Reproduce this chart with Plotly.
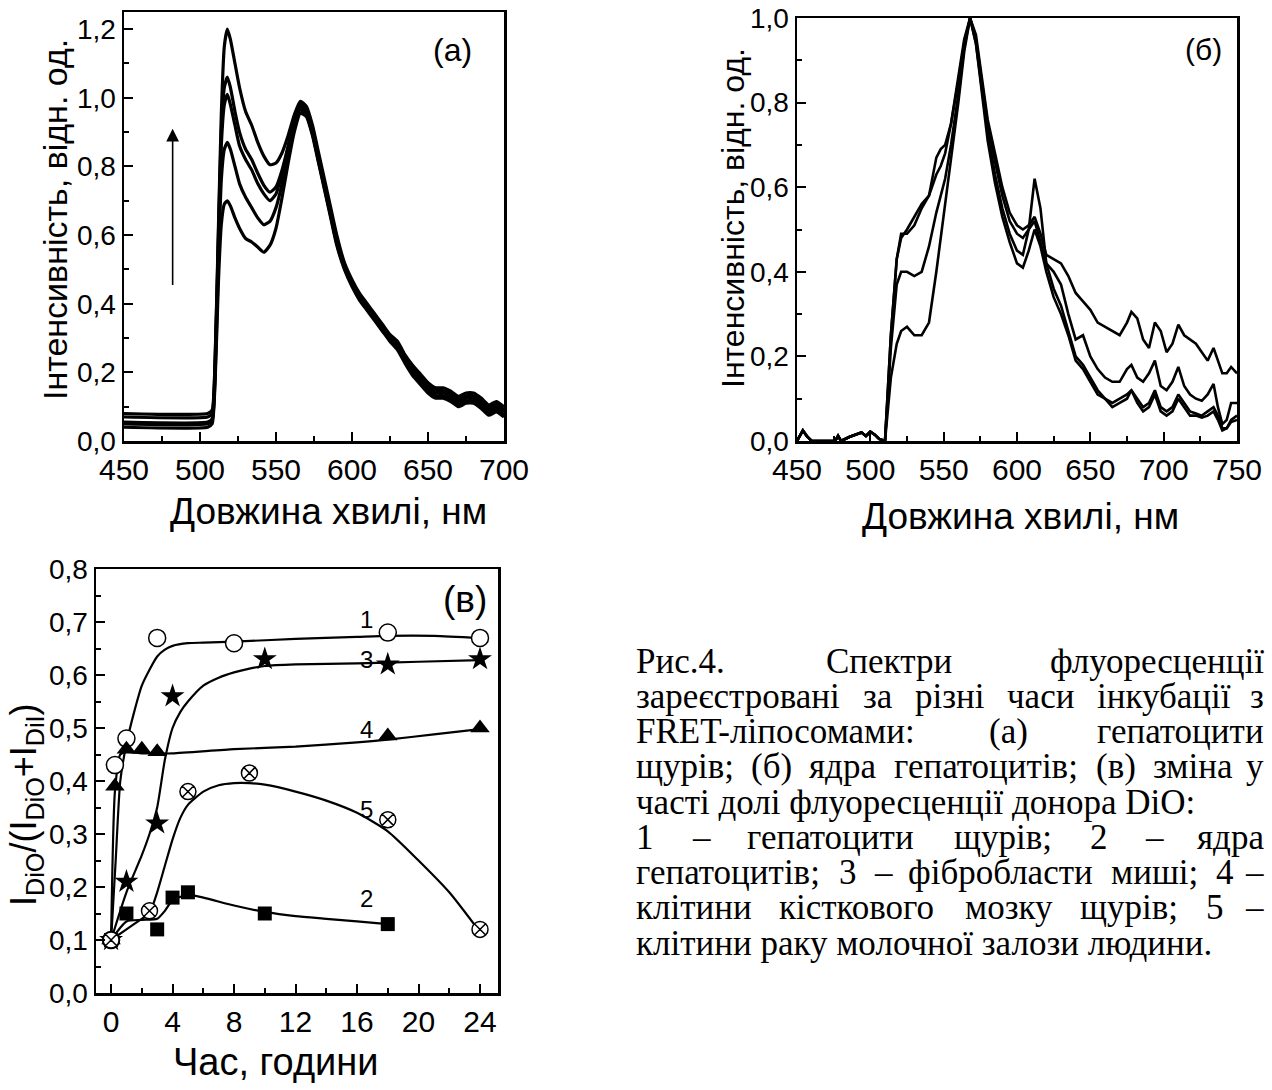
import plotly.graph_objects as go

W, H = 1272, 1090

# ---------------- Panel (a) data ----------------
wl_a = [450, 505, 508, 510, 512, 514, 516, 518, 520, 523, 526, 530, 534, 538, 542, 546, 550, 554, 558, 562,
        566, 570, 574, 578, 582, 586, 590, 595, 600, 605, 610, 615, 620, 625, 630, 635, 640, 645, 650, 655,
        660, 665, 670, 675, 680, 685, 690, 695, 700]
a1 = [.08, .08, .09, .25, .60, .95, 1.15, 1.20, 1.17, 1.10, 1.03, .96, .92, .87, .83, .805, .81, .84, .89, .95,
      .99, .975, .92, .84, .76, .68, .60, .52, .47, .43, .40, .37, .34, .31, .29, .25, .22, .195, .17, .155,
      .155, .145, .13, .14, .14, .125, .105, .115, .10]
a2 = [.07, .07, .08, .24, .58, .90, 1.03, 1.06, 1.03, .96, .90, .85, .82, .78, .745, .725, .74, .79, .86, .94,
      .985, .965, .91, .83, .75, .67, .59, .515, .465, .425, .395, .365, .335, .305, .285, .245, .21, .185, .16, .148,
      .147, .137, .122, .132, .132, .117, .097, .107, .092]
a3 = [.055, .055, .065, .22, .55, .86, .98, 1.01, .98, .92, .86, .82, .79, .75, .72, .70, .72, .78, .855, .935,
      .975, .955, .90, .82, .74, .66, .58, .51, .46, .42, .39, .36, .33, .30, .28, .24, .205, .18, .155, .14,
      .14, .13, .115, .125, .125, .11, .09, .10, .085]
a4 = [.05, .05, .06, .20, .50, .76, .85, .87, .85, .80, .75, .71, .68, .65, .63, .64, .68, .75, .84, .92,
      .965, .95, .895, .815, .735, .655, .575, .505, .455, .415, .385, .355, .325, .295, .273, .233, .197, .172, .147, .132,
      .132, .122, .107, .117, .117, .102, .082, .092, .077]
a5 = [.04, .04, .05, .18, .45, .63, .69, .70, .685, .65, .62, .59, .58, .565, .55, .57, .62, .71, .81, .90,
      .955, .945, .89, .81, .73, .65, .57, .50, .45, .41, .38, .35, .32, .29, .265, .225, .19, .165, .14, .125,
      .125, .115, .10, .11, .11, .095, .075, .085, .07]
series_a = [a1, a2, a3, a4, a5]

# ---------------- Panel (б) data ----------------
wl_b = [450, 454, 457, 460, 464, 470, 476, 478, 480, 486, 490, 494, 497, 500, 503, 506, 510,
        514, 518, 521, 525, 530, 535, 540, 545, 548, 551, 555, 560, 564, 568, 572, 576, 580, 585, 590, 595,
        600, 604, 608, 612, 616, 620, 625, 630, 635, 640, 645, 650, 655, 660, 665, 670, 675, 678, 682, 686,
        690, 694, 698, 702, 706, 710, 714, 718, 722, 726, 730, 734, 737, 740, 743, 746, 750]
base_b = [0.0, 0.025, 0.01, 0.0, 0.0, 0.0, 0.0, 0.012, 0.0, 0.01, 0.015, 0.02, 0.012, 0.022, 0.015, 0.005, 0.0]
b1 = base_b + [.25, .43, .49, .49, .51, .55, .58, .67, .69, .70, .75, .85, .94, 1.0, .96, .86, .76, .68, .60, .54,
               .51, .50, .51, .53, .49, .44, .43, .42, .39, .35, .33, .31, .28, .27, .26, .25, .28, .305, .29, .24,
               .22, .28, .26, .21, .23, .275, .25, .24, .23, .21, .19, .22, .19, .16, .16, .175, .16]
b2 = base_b + [.25, .43, .48, .50, .53, .56, .58, .63, .65, .68, .75, .86, .95, 1.0, .95, .85, .75, .66, .58, .52,
               .49, .48, .50, .52, .47, .42, .40, .37, .30, .24, .25, .20, .17, .15, .14, .14, .17, .18, .15, .14,
               .16, .19, .13, .12, .14, .175, .13, .11, .10, .095, .11, .135, .08, .04, .05, .09, .09]
b3 = base_b + [.22, .37, .40, .40, .39, .40, .46, .54, .58, .62, .70, .82, .93, 1.0, .94, .84, .73, .63, .55, .49,
               .45, .44, .50, .62, .55, .42, .36, .32, .26, .20, .18, .15, .12, .10, .09, .10, .11, .12, .10, .08,
               .09, .12, .08, .07, .08, .11, .09, .07, .065, .06, .07, .08, .06, .03, .03, .05, .06]
b4 = base_b + [.15, .23, .26, .27, .25, .25, .28, .40, .48, .56, .66, .80, .92, 1.0, .94, .83, .71, .61, .53, .47,
               .42, .41, .45, .50, .46, .40, .34, .30, .25, .19, .17, .14, .11, .10, .08, .09, .10, .12, .09, .07,
               .08, .11, .07, .06, .07, .10, .08, .06, .06, .055, .06, .07, .05, .025, .03, .045, .05]
series_b = [b1, b2, b3, b4]

# ---------------- Panel (в) data ----------------
t1 = [0, 0.25, 1, 3, 8, 18, 24];        y1 = [0.10, 0.43, 0.48, 0.67, 0.66, 0.68, 0.67]
t2 = [0, 1, 3, 4, 5, 10, 18];           y2 = [0.10, 0.15, 0.12, 0.18, 0.19, 0.15, 0.13]
t3 = [0, 1, 3, 4, 10, 18, 24];          y3 = [0.10, 0.21, 0.32, 0.56, 0.63, 0.62, 0.63]
t4 = [0, 0.25, 1, 2, 3, 18, 24];        y4 = [0.10, 0.39, 0.46, 0.46, 0.455, 0.485, 0.50]
t5 = [0, 2.5, 5, 9, 18, 24];            y5 = [0.10, 0.155, 0.38, 0.415, 0.327, 0.12]

tf1 = [0, 0.3, 0.6, 1.0, 1.5, 2.0, 2.5, 3.0, 3.5, 4.0, 5.0, 6.0, 8.0, 12.0, 16.0, 18.0, 21.0, 24.0]
yf1 = [0.10, 0.25, 0.40, 0.47, 0.53, 0.58, 0.61, 0.635, 0.648, 0.655, 0.66, 0.661, 0.663, 0.668, 0.672, 0.674, 0.674, 0.67]
tf2 = [0, 1, 2, 3, 3.5, 4, 5, 6, 8, 10, 12, 14, 16, 18]
yf2 = [0.10, 0.135, 0.138, 0.14, 0.155, 0.175, 0.185, 0.18, 0.165, 0.153, 0.145, 0.14, 0.135, 0.13]
tf3 = [0, 1, 2, 2.5, 3, 3.5, 4, 4.5, 5, 6, 7, 8, 9, 10, 12, 16, 20, 24]
yf3 = [0.10, 0.19, 0.26, 0.30, 0.35, 0.44, 0.50, 0.53, 0.55, 0.58, 0.595, 0.605, 0.612, 0.617, 0.62, 0.622, 0.625, 0.628]
tf4 = [0, 0.25, 0.6, 1, 2, 3, 4, 8, 12, 16, 18, 21, 24]
yf4 = [0.10, 0.38, 0.45, 0.455, 0.452, 0.452, 0.452, 0.46, 0.465, 0.473, 0.478, 0.488, 0.498]
tf5 = [0, 1, 2, 2.5, 3, 3.5, 4, 4.5, 5, 6, 7, 8, 9, 10, 12, 14, 16, 18, 20, 22, 24]
yf5 = [0.10, 0.12, 0.14, 0.15, 0.19, 0.24, 0.29, 0.33, 0.355, 0.38, 0.392, 0.396, 0.396, 0.393, 0.38, 0.363, 0.34, 0.305, 0.25, 0.19, 0.115]

curve_labels = ["1", "2", "3", "4", "5"]
label_t = [16.6, 16.6, 16.6, 16.6, 16.6]
label_y = [0.705, 0.179, 0.63, 0.497, 0.346]

# ticks
ticks_a_x = [450, 500, 550, 600, 650, 700]
ticks_a_y = [0.0, 0.2, 0.4, 0.6, 0.8, 1.0, 1.2]
ticks_b_x = [450, 500, 550, 600, 650, 700, 750]
ticks_b_y = [0.0, 0.2, 0.4, 0.6, 0.8, 1.0]
ticks_c_x = [0, 4, 8, 12, 16, 20, 24]
ticks_c_y = [0.0, 0.1, 0.2, 0.3, 0.4, 0.5, 0.6, 0.7, 0.8]

# caption text: (line, justified?)
caption_lines = [
    ("Рис.4. Спектри флуоресценції", True),
    ("зареєстровані за різні часи інкубації з", True),
    ("FRET-ліпосомами: (а) гепатоцити", True),
    ("щурів; (б) ядра гепатоцитів; (в) зміна у", True),
    ("часті долі флуоресценції донора DiO:", False),
    ("1 – гепатоцити щурів; 2 – ядра", True),
    ("гепатоцитів; 3 – фібробласти миші; 4 –", True),
    ("клітини кісткового мозку щурів; 5 –", True),
    ("клітини раку молочної залози людини.", False),
]


def comma(v, nd=1):
    return f"{v:.{nd}f}".replace(".", ",")


fig = go.Figure()
for s in series_a:
    fig.add_trace(go.Scatter(x=wl_a, y=s, mode="lines", line=dict(color="black", width=3.2, shape="spline", smoothing=0.5),
                             xaxis="x", yaxis="y", showlegend=False, hoverinfo="skip"))
for s in series_b:
    fig.add_trace(go.Scatter(x=wl_b, y=s, mode="lines", line=dict(color="black", width=2.6),
                             xaxis="x2", yaxis="y2", showlegend=False, hoverinfo="skip"))

for tf, yf in [(tf1, yf1), (tf2, yf2), (tf3, yf3), (tf4, yf4), (tf5, yf5)]:
    fig.add_trace(go.Scatter(x=tf, y=yf, mode="lines", line=dict(color="black", width=2.2, shape="spline", smoothing=0.6),
                             xaxis="x3", yaxis="y3", showlegend=False, hoverinfo="skip"))

mk = [
    (t1, y1, dict(symbol="circle-open", size=17, color="black", line=dict(width=1.5, color="black"))),
    (t2, y2, dict(symbol="square", size=14, color="black")),
    (t3, y3, dict(symbol="star", size=18, color="black")),
    (t4, y4, dict(symbol="triangle-up", size=17, color="black")),
    (t5, y5, dict(symbol="circle-x-open", size=16, color="black", line=dict(width=1.5, color="black"))),
]
for t, y, m in mk:
    if "open" in m["symbol"]:
        fig.add_trace(go.Scatter(x=t, y=y, mode="markers", marker=dict(symbol="circle", size=m["size"], color="white"),
                                 xaxis="x3", yaxis="y3", showlegend=False, hoverinfo="skip"))
    fig.add_trace(go.Scatter(x=t, y=y, mode="markers", marker=m, xaxis="x3", yaxis="y3", showlegend=False, hoverinfo="skip"))


def dom_x(l, r):
    return [l / W, r / W]


def dom_y(top, bot):
    return [1 - bot / H, 1 - top / H]


minor_common = dict(ticks="inside", ticklen=5, tickwidth=2, tickcolor="black")
axis_common = dict(showgrid=False, zeroline=False, showline=True, linecolor="black", linewidth=2.5, mirror=True,
                   ticks="inside", ticklen=9, tickwidth=2, tickcolor="black", automargin=False)
xfont = dict(family="Liberation Sans, Arial", size=30, color="black")
yfont = dict(family="Liberation Sans, Arial", size=28, color="black")

fig.update_layout(
    template="none",
    width=W, height=H, margin=dict(l=0, r=0, t=0, b=0, pad=0), autosize=False,
    paper_bgcolor="white", plot_bgcolor="white",
    font=dict(family="Liberation Sans, Arial", color="black"),
    xaxis=dict(domain=dom_x(124, 504), range=[450, 700], anchor="y", tickvals=ticks_a_x, tickfont=xfont,
               ticktext=[str(v) for v in ticks_a_x], minor=dict(dtick=25, tick0=450, **minor_common), **axis_common),
    yaxis=dict(domain=dom_y(12, 441), range=[0, 1.25], anchor="x", tickvals=ticks_a_y, tickfont=yfont,
               ticktext=[comma(v) for v in ticks_a_y], minor=dict(dtick=0.1, tick0=0, **minor_common), **axis_common),
    xaxis2=dict(domain=dom_x(797, 1237), range=[450, 750], anchor="y2", tickvals=ticks_b_x, tickfont=xfont,
                ticktext=[str(v) for v in ticks_b_x], minor=dict(dtick=25, tick0=450, **minor_common), **axis_common),
    yaxis2=dict(domain=dom_y(18, 441), range=[0, 1.0], anchor="x2", tickvals=ticks_b_y, tickfont=yfont,
                ticktext=[comma(v) for v in ticks_b_y], minor=dict(dtick=0.1, tick0=0, **minor_common), **axis_common),
    xaxis3=dict(domain=dom_x(96, 498), range=[-0.98, 25.17], anchor="y3", tickvals=ticks_c_x, tickfont=xfont,
                ticktext=[str(v) for v in ticks_c_x], minor=dict(dtick=2, tick0=0, **minor_common), **axis_common),
    yaxis3=dict(domain=dom_y(569, 993), range=[0, 0.8], anchor="x3", tickvals=ticks_c_y, tickfont=yfont,
                ticktext=[comma(v) for v in ticks_c_y], minor=dict(dtick=0.05, tick0=0, **minor_common), **axis_common),
)

ann = []
SANS = "Liberation Sans, Arial"
SERIF = "Liberation Serif, Times New Roman"


def pann(text, px, py, size, family=SANS, angle=0, xanchor="center", yanchor="middle"):
    ann.append(dict(text=text, x=px / W, y=1 - py / H, xref="paper", yref="paper", showarrow=False,
                    font=dict(family=family, size=size, color="black"), textangle=angle,
                    xanchor=xanchor, yanchor=yanchor))


# axis titles
pann("Інтенсивність, відн. од.", 55, 220, 34, angle=-90)
pann("Довжина хвилі, нм", 328, 511, 37)
pann("Інтенсивність, відн. од.", 733, 218, 32, angle=-90)
pann("Довжина хвилі, нм", 1020, 516, 37)
pann("I<sub>DiO</sub>/(I<sub>DiO</sub>+I<sub>DiI</sub>)", 26, 805, 36, angle=-90)
pann("Час, години", 276, 1062, 38)

# panel labels
ann.append(dict(text="(a)", x=666, y=1.14, xref="x", yref="y", showarrow=False, font=dict(family=SANS, size=32)))
ann.append(dict(text="(б)", x=727, y=0.925, xref="x2", yref="y2", showarrow=False, font=dict(family=SANS, size=30)))
ann.append(dict(text="(в)", x=23.0, y=0.742, xref="x3", yref="y3", showarrow=False, font=dict(family=SANS, size=37)))

# arrow in (a)
ann.append(dict(x=482, y=0.91, ax=482, ay=0.43, xref="x", yref="y", axref="x", ayref="y", text=" ",
                showarrow=True, arrowhead=2, arrowsize=1.6, arrowwidth=1.6, arrowcolor="black"))

# curve labels in (в)
for lab, lx, ly in zip(curve_labels, label_t, label_y):
    ann.append(dict(text=lab, x=lx, y=ly, xref="x3", yref="y3", showarrow=False, font=dict(family=SANS, size=24)))

# --- caption, justified like the source (Times metrics approximations) ---
CW = {'а': .444, 'б': .509, 'в': .472, 'г': .410, 'д': .509, 'е': .444, 'ж': .691, 'з': .395, 'и': .535, 'й': .535,
      'к': .486, 'л': .499, 'м': .633, 'н': .535, 'о': .5, 'п': .535, 'р': .5, 'с': .444, 'т': .437, 'у': .5,
      'ф': .648, 'х': .5, 'ц': .535, 'ч': .503, 'ш': .770, 'щ': .770, 'ь': .468, 'ю': .719, 'я': .472, 'і': .278,
      'ї': .278, 'є': .444, 'Р': .556, 'С': .667, 'F': .556, 'R': .667, 'E': .611, 'T': .611, 'D': .722, 'O': .722,
      'i': .278, '.': .25, ',': .25, ';': .278, ':': .278, '(': .333, ')': .333, '-': .333, '–': .5}


def wwidth(word, size):
    return sum(CW.get(c, .5) for c in word) * size


CAP_L, CAP_R, CAP_SIZE = 634, 1266, 35
for i, (text, just) in enumerate(caption_lines):
    cy = 661 + 35.25 * i
    if not just:
        pann(text, CAP_L, cy, CAP_SIZE, family=SERIF, xanchor="left")
        continue
    words = text.split(" ")
    widths = [wwidth(w, CAP_SIZE) for w in words]
    gap = (CAP_R - CAP_L - sum(widths)) / (len(words) - 1)
    x = CAP_L
    for j, (w, wd) in enumerate(zip(words, widths)):
        if j == len(words) - 1:
            pann(w, CAP_R, cy, CAP_SIZE, family=SERIF, xanchor="right")
        else:
            pann(w, x, cy, CAP_SIZE, family=SERIF, xanchor="left")
        x += wd + gap

fig.update_layout(annotations=ann)
fig.write_html("out.html", config={"displayModeBar": False, "staticPlot": True},
               post_script="document.body.style.margin='0px';document.body.style.padding='0px';"
                           "document.body.style.overflow='hidden';")
